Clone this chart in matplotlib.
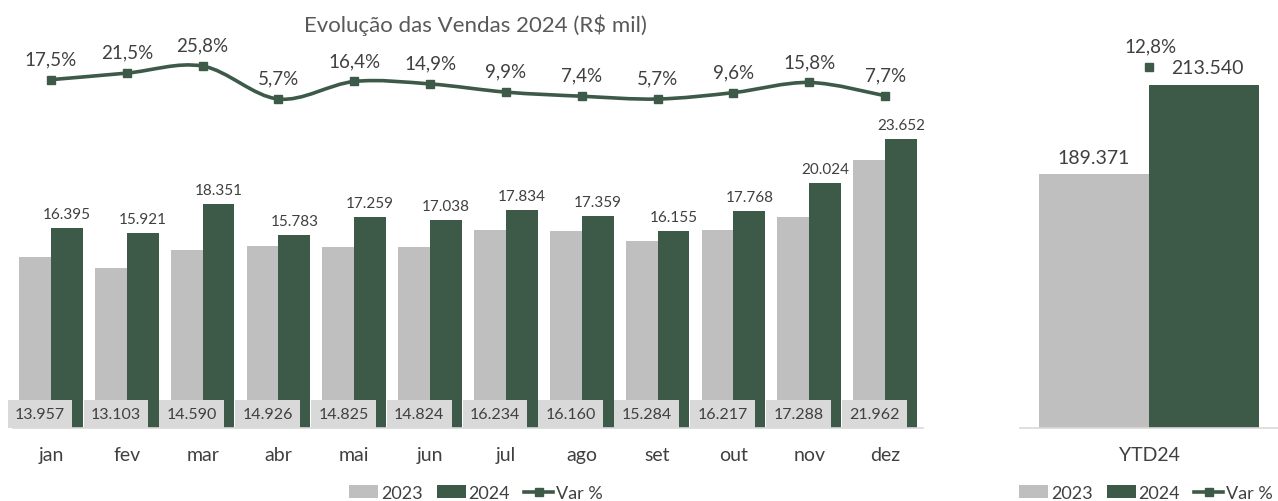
import matplotlib
matplotlib.use('Agg')
import matplotlib.pyplot as plt
import numpy as np
from matplotlib.path import Path
from matplotlib.patches import PathPatch, Patch
from matplotlib.lines import Line2D

# Dados (R$ mil)
meses = ['jan', 'fev', 'mar', 'abr', 'mai', 'jun', 'jul', 'ago', 'set', 'out', 'nov', 'dez']
vendas_2023 = [13957, 13103, 14590, 14926, 14825, 14824, 16234, 16160, 15284, 16217, 17288, 21962]
vendas_2024 = [16395, 15921, 18351, 15783, 17259, 17038, 17834, 17359, 16155, 17768, 20024, 23652]
var_pct = [17.5, 21.5, 25.8, 5.7, 16.4, 14.9, 9.9, 7.4, 5.7, 9.6, 15.8, 7.7]
ytd_rotulo = 'YTD24'
ytd_2023 = 189371
ytd_2024 = 213540
ytd_var = 12.8

CINZA = '#BFBFBF'
VERDE = '#3C5A47'
CAIXA = '#D9D9D9'
TEXTO = '#404040'

plt.rcParams['font.family'] = ['Lato', 'DejaVu Sans']

W, H = 1278, 502
fig = plt.figure(figsize=(W / 100, H / 100), dpi=100)
fig.set_facecolor('white')


def eixo_px(esq, dir, base, topo):
    # cria eixos a partir de coordenadas em pixels da imagem
    return fig.add_axes([esq / W, 1 - base / H, (dir - esq) / W, (base - topo) / H])


def fmt_mil(v):
    return f'{v:,}'.replace(',', '.')


def fmt_pct(p):
    return f'{p:.1f}%'.replace('.', ',')


def limpar(ax):
    for lado in ['left', 'right', 'top']:
        ax.spines[lado].set_visible(False)
    ax.spines['bottom'].set_color(CAIXA)
    ax.spines['bottom'].set_linewidth(1.2)
    ax.set_yticks([])
    ax.tick_params(axis='x', length=0, pad=13, labelsize=14, labelcolor=TEXTO)


def curva_suave(xs, ys):
    # curva tipo "linha suavizada" do Excel (Bezier Catmull-Rom)
    pts = np.column_stack([xs, ys]).astype(float)
    n = len(pts)
    verts = [pts[0]]
    codes = [Path.MOVETO]
    for i in range(n - 1):
        p0 = pts[i - 1] if i > 0 else pts[i]
        p1 = pts[i]
        p2 = pts[i + 1]
        p3 = pts[i + 2] if i + 2 < n else pts[i + 1]
        verts += [p1 + (p2 - p0) / 6, p2 - (p3 - p1) / 6, p2]
        codes += [Path.CURVE4] * 3
    return Path(verts, codes)


# --- Gráfico mensal ---
ax = eixo_px(13, 923, 429, 40)
x = np.arange(len(meses))
w = 0.42
ax.bar(x - w / 2, vendas_2023, w, color=CINZA)
ax.bar(x + w / 2, vendas_2024, w, color=VERDE)
ax.set_xlim(-0.5, len(meses) - 0.5)
ax.set_ylim(0, 31830)
ax.set_xticks(x)
ax.set_xticklabels(meses)
limpar(ax)

for xi, v in zip(x, vendas_2024):
    ax.annotate(fmt_mil(v), (xi + w / 2, v), xytext=(0, 14), textcoords='offset pixels',
                ha='center', va='center', fontsize=11, color=TEXTO)
for xi, v in zip(x, vendas_2023):
    ax.annotate(fmt_mil(v), (xi - w / 2, 0), xytext=(5, 14), textcoords='offset pixels',
                ha='center', va='center', fontsize=11.5, color=TEXTO,
                bbox=dict(boxstyle='square,pad=0.45', facecolor=CAIXA, edgecolor='none'))

ax2 = ax.twinx()
ax2.set_ylim(-194.9, 42.3)
ax2.axis('off')
ax2.add_patch(PathPatch(curva_suave(x, var_pct), fill=False, edgecolor=VERDE, lw=2.6))
ax2.plot(x, var_pct, ls='none', marker='s', ms=6, color=VERDE)
for xi, p in zip(x, var_pct):
    ax2.annotate(fmt_pct(p), (xi, p), xytext=(0, 21), textcoords='offset pixels',
                 ha='center', va='center', fontsize=13.5, color=TEXTO)

fig.text(475 / W, 1 - 25 / H, 'Evolução das Vendas 2024 (R\\$ mil)', ha='center', va='center',
         fontsize=16, color='#595959')

# --- Acumulado do ano ---
axy = eixo_px(1020, 1278, 429, 40)
wy = 0.426
axy.bar([-wy / 2], [ytd_2023], wy, color=CINZA)
axy.bar([wy / 2], [ytd_2024], wy, color=VERDE)
axy.set_xlim(-0.5, 0.5)
axy.set_ylim(120390, 226040)
axy.set_xticks([0])
axy.set_xticklabels([ytd_rotulo])
limpar(axy)
axy.annotate(fmt_mil(ytd_2023), (-wy / 2, ytd_2023), xytext=(0, 17), textcoords='offset pixels',
             ha='center', va='center', fontsize=14, color=TEXTO)

axy2 = axy.twinx()
axy2.set_ylim(-207.3, 29.9)
axy2.axis('off')
axy2.plot([0], [ytd_var], ls='none', marker='s', ms=6, color=VERDE)
axy2.annotate(fmt_pct(ytd_var), (0, ytd_var), xytext=(2, 21), textcoords='offset pixels',
              ha='center', va='center', fontsize=13.5, color=TEXTO)
axy2.annotate(fmt_mil(ytd_2024), (0, ytd_var), xytext=(22, 0), textcoords='offset pixels',
              ha='left', va='center', fontsize=14, color=TEXTO)

# --- Legendas ---
itens = [Patch(facecolor=CINZA, edgecolor='none'),
         Patch(facecolor=VERDE, edgecolor='none'),
         Line2D([], [], color=VERDE, lw=2.6, marker='s', ms=6)]
nomes = ['2023', '2024', 'Var %']
for cx in [476, 1146]:
    fig.legend(itens, nomes, loc='center', bbox_to_anchor=(cx / W, 1 - 494 / H), ncol=3,
               frameon=False, fontsize=13, handlelength=1.6, handleheight=0.7,
               columnspacing=0.8, handletextpad=0.15, labelcolor=TEXTO,
               borderpad=0.1, borderaxespad=0)

fig.savefig('out.png', dpi=100, facecolor='white')
